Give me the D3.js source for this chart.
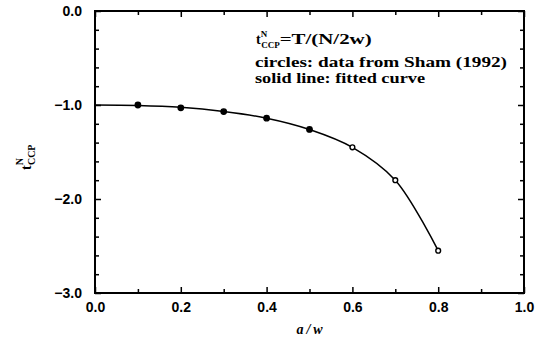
<!DOCTYPE html>
<html>
<head>
<meta charset="utf-8">
<script src="https://cdn.jsdelivr.net/npm/d3@7"></script>
<style>
  body { margin: 0; background: #fff; }
  svg { display: block; }
  .tick text { font-family: 'Liberation Sans', Arial, sans-serif; font-weight: bold; font-size: 14px; fill: #000; }
  .note { font-family: 'Liberation Serif', serif; font-weight: bold; font-size: 14px; fill: #000; }
</style>
</head>
<body>
<svg></svg>
<script>
var width = 543;
var height = 352;

// Sham (1992) data points
var aw = [0.1, 0.2, 0.3, 0.4, 0.5, 0.6, 0.7, 0.8];
var tccp = [-1.00, -1.03, -1.07, -1.14, -1.26, -1.45, -1.80, -2.55];
var filled = [true, true, true, true, true, false, false, false];

// fitted curve
var fitX = [0.0, 0.1, 0.2, 0.3, 0.4, 0.5, 0.6, 0.7, 0.8];
var fitY = [-1.00, -1.005, -1.025, -1.07, -1.14, -1.26, -1.45, -1.80, -2.55];

var xMajor = [0.0, 0.2, 0.4, 0.6, 0.8, 1.0];
var xMinor = [0.1, 0.3, 0.5, 0.7, 0.9];
var yMajor = [0.0, -1.0, -2.0, -3.0];
var yMinor = [-0.2, -0.4, -0.6, -0.8, -1.2, -1.4, -1.6, -1.8, -2.2, -2.4, -2.6, -2.8];

var svg = d3.select('svg')
            .attr('width', width)
            .attr('height', height);

var xScale = d3.scaleLinear().domain([0, 1]).range([95, 524]);
var yScale = d3.scaleLinear().domain([0, -3]).range([11, 293]);

var fmt = d3.format('.1f');
var minus = d => fmt(d).replace('-', '\u2212');

// bottom axis
svg.append('g')
   .attr('transform', `translate(0, ${yScale(-3)})`)
   .call(d3.axisBottom(xScale).tickValues(xMajor).tickSize(-6).tickSizeOuter(0).tickPadding(9).tickFormat(fmt));
svg.append('g')
   .attr('transform', `translate(0, ${yScale(-3)})`)
   .call(d3.axisBottom(xScale).tickValues(xMinor).tickSize(-4).tickSizeOuter(0).tickFormat(''));
// top axis
svg.append('g')
   .attr('transform', `translate(0, ${yScale(0)})`)
   .call(d3.axisTop(xScale).tickValues(xMajor).tickSize(-6).tickSizeOuter(0).tickFormat(''));
svg.append('g')
   .attr('transform', `translate(0, ${yScale(0)})`)
   .call(d3.axisTop(xScale).tickValues(xMinor).tickSize(-4).tickSizeOuter(0).tickFormat(''));
// left axis
svg.append('g')
   .attr('transform', `translate(${xScale(0)}, 0)`)
   .call(d3.axisLeft(yScale).tickValues(yMajor).tickSize(-6).tickSizeOuter(0).tickPadding(13).tickFormat(minus));
svg.append('g')
   .attr('transform', `translate(${xScale(0)}, 0)`)
   .call(d3.axisLeft(yScale).tickValues(yMinor).tickSize(-4).tickSizeOuter(0).tickFormat(''));
// right axis
svg.append('g')
   .attr('transform', `translate(${xScale(1)}, 0)`)
   .call(d3.axisRight(yScale).tickValues(yMajor).tickSize(-6).tickSizeOuter(0).tickFormat(''));
svg.append('g')
   .attr('transform', `translate(${xScale(1)}, 0)`)
   .call(d3.axisRight(yScale).tickValues(yMinor).tickSize(-4).tickSizeOuter(0).tickFormat(''));

svg.selectAll('.domain').remove();
svg.selectAll('.tick line').attr('stroke', '#000').attr('stroke-width', 1.5);

// frame
svg.append('rect')
   .attr('x', xScale(0))
   .attr('y', yScale(0))
   .attr('width', xScale(1) - xScale(0))
   .attr('height', yScale(-3) - yScale(0))
   .attr('fill', 'none')
   .attr('stroke', '#000')
   .attr('stroke-width', 2);

// fitted curve
var line = d3.line()
             .x((d, i) => xScale(fitX[i]))
             .y(d => yScale(d))
             .curve(d3.curveCatmullRom.alpha(0.5));
svg.append('path')
   .datum(fitY)
   .attr('d', line)
   .attr('fill', 'none')
   .attr('stroke', '#000')
   .attr('stroke-width', 1.5);

// data circles
svg.selectAll('.pt')
   .data(aw)
   .enter()
   .append('circle')
     .classed('pt', true)
     .attr('cx', d => xScale(d))
     .attr('cy', (d, i) => yScale(tccp[i]))
     .attr('r', (d, i) => filled[i] ? 2.7 : 2.4)
     .attr('fill', (d, i) => filled[i] ? '#000' : '#fff')
     .attr('stroke', '#000')
     .attr('stroke-width', 1.4);

// notes
var t1 = svg.append('text').classed('note', true).attr('x', 256).attr('y', 44).attr('font-size', 15);
t1.append('tspan').text('t');
t1.append('tspan').attr('dy', -7).attr('font-size', 9).text('N');
t1.append('tspan').attr('dx', -6).attr('dy', 11).attr('font-size', 9).text('CCP');
t1.append('tspan').attr('dy', -4).attr('textLength', 92).attr('lengthAdjust', 'spacingAndGlyphs').text('=T/(N/2w)');

svg.append('text').classed('note', true)
   .attr('x', 255).attr('y', 67)
   .attr('textLength', 252).attr('lengthAdjust', 'spacingAndGlyphs')
   .text('circles: data from Sham (1992)');
svg.append('text').classed('note', true)
   .attr('x', 255).attr('y', 83)
   .attr('textLength', 170).attr('lengthAdjust', 'spacingAndGlyphs')
   .text('solid line: fitted curve');

// axis titles
var yl = svg.append('text').classed('note', true)
            .attr('font-size', 17)
            .attr('transform', 'translate(31, 170) rotate(-90)');
yl.append('tspan').text('t');
yl.append('tspan').attr('dy', -8).attr('font-size', 10).text('N');
yl.append('tspan').attr('dx', -7).attr('dy', 12).attr('font-size', 10).text('CCP');

svg.append('text').classed('note', true)
   .attr('x', 311).attr('y', 334)
   .attr('text-anchor', 'middle')
   .attr('font-style', 'italic')
   .attr('font-size', 16)
   .attr('letter-spacing', 3)
   .text('a/w');
</script>
</body>
</html>
